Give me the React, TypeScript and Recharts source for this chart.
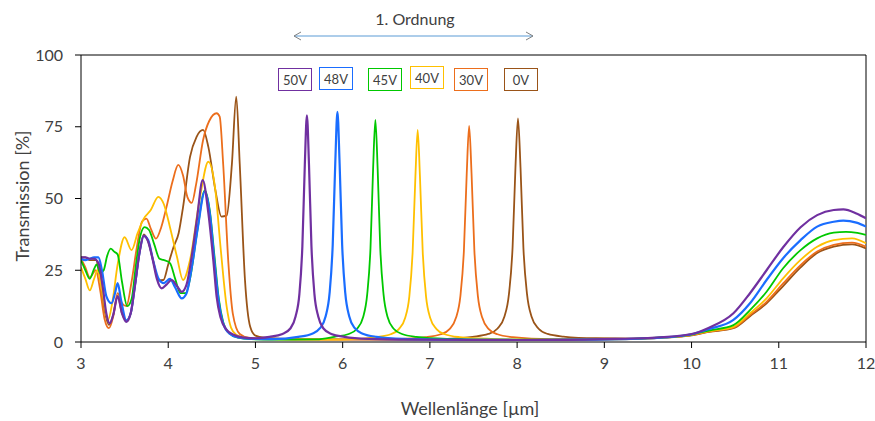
import { Line, LineChart, ReferenceLine, XAxis, YAxis } from 'recharts';

const xTicks = [3, 4, 5, 6, 7, 8, 9, 10, 11, 12];
const yTicks = [0, 25, 50, 75, 100];

// [wavelength µm, transmission %]
const t50V: [number, number][] = [
  [3.0, 29.5], [3.05, 29.5], [3.1, 29], [3.15, 29], [3.2, 27.5], [3.25, 19], [3.29, 10], [3.33, 6.5],
  [3.37, 9.5], [3.42, 16], [3.47, 10], [3.52, 7], [3.57, 10], [3.62, 20], [3.67, 31], [3.72, 37],
  [3.77, 35], [3.82, 29], [3.87, 22], [3.925, 18.7], [3.98, 20], [4.04, 21.6], [4.1, 19.5], [4.155, 17.5],
  [4.21, 20], [4.27, 30], [4.33, 43], [4.395, 56.4], [4.46, 45], [4.52, 27.5], [4.555, 15.8], [4.6, 8.5],
  [4.67, 4.2], [4.75, 2.5], [4.85, 1.6], [5.0, 1.3], [5.16, 1.8], [5.31, 2.8], [5.4, 4.7], [5.46, 8.9],
  [5.504, 16.8], [5.538, 33.4], [5.566, 61.7], [5.59, 79], [5.614, 61.7], [5.642, 33.4], [5.676, 16.8],
  [5.72, 8.9], [5.78, 4.7], [5.87, 2.8], [6.02, 1.8], [6.3, 1.1], [6.8, 0.8], [7.5, 0.7], [8.2, 0.7],
  [9.0, 1.0], [9.5, 1.4], [10.0, 2.8], [10.2, 5], [10.48, 10], [10.67, 17], [10.86, 25], [11.05, 33],
  [11.25, 40], [11.44, 44.2], [11.63, 46], [11.74, 46.2], [11.89, 44.8], [12.0, 43.1],
];

const t48V: [number, number][] = [
  [3.0, 29], [3.05, 28.5], [3.1, 29], [3.15, 29.5], [3.2, 29.5], [3.24, 25], [3.29, 16], [3.35, 13.5],
  [3.39, 17], [3.42, 20.5], [3.46, 14.5], [3.52, 7.5], [3.57, 10], [3.62, 20], [3.67, 31], [3.72, 37],
  [3.77, 35.5], [3.83, 28], [3.89, 22], [3.95, 20.5], [4.02, 22], [4.08, 19], [4.155, 15.2], [4.21, 17],
  [4.27, 26], [4.34, 40], [4.42, 52.4], [4.48, 44], [4.53, 28], [4.58, 14], [4.63, 6.5], [4.7, 3],
  [4.8, 1.6], [4.95, 1.1], [5.2, 1.0], [5.49, 1.8], [5.65, 2.9], [5.74, 4.8], [5.805, 9], [5.85, 17],
  [5.886, 33.9], [5.915, 62.2], [5.94, 80.2], [5.965, 62.2], [5.994, 33.9], [6.03, 17], [6.075, 9],
  [6.14, 4.8], [6.23, 2.9], [6.39, 1.8], [6.7, 1.1], [7.3, 0.8], [8.0, 0.7], [8.7, 0.8], [9.3, 1.1],
  [9.7, 1.6], [10.0, 2.7], [10.2, 4.5], [10.48, 7.7], [10.67, 13.5], [10.86, 21.6], [11.05, 29.2],
  [11.25, 35.5], [11.44, 40.2], [11.63, 41.9], [11.74, 42.3], [11.89, 41.6], [12.0, 40.2],
];

const t45V: [number, number][] = [
  [3.0, 28.5], [3.05, 25], [3.1, 22], [3.15, 25.5], [3.18, 27], [3.22, 24], [3.26, 25], [3.3, 30],
  [3.34, 32.5], [3.38, 31.5], [3.42, 30.5], [3.47, 21], [3.53, 12.5], [3.58, 15], [3.63, 27], [3.68, 37],
  [3.73, 40], [3.78, 39], [3.84, 34], [3.9, 29], [3.945, 28.6], [4.02, 27.5], [4.08, 22], [4.14, 17],
  [4.2, 17], [4.25, 22], [4.33, 38], [4.42, 52.8], [4.48, 45], [4.53, 30], [4.58, 15], [4.63, 7],
  [4.7, 3], [4.8, 1.5], [4.95, 1.0], [5.3, 0.8], [5.7, 0.9], [5.905, 1.8], [6.07, 2.8], [6.165, 4.6],
  [6.235, 8.7], [6.281, 16.5], [6.319, 32.7], [6.349, 60.4], [6.375, 77.4], [6.401, 60.4], [6.431, 32.7],
  [6.469, 16.5], [6.515, 8.7], [6.585, 4.6], [6.68, 2.8], [6.845, 1.8], [7.2, 1.1], [7.8, 0.8],
  [8.5, 0.8], [9.2, 1.0], [9.6, 1.5], [10.0, 2.6], [10.2, 4], [10.48, 5.9], [10.67, 11.1], [10.86, 17.5],
  [11.05, 25.7], [11.25, 32], [11.44, 36.1], [11.63, 38.1], [11.77, 38.4], [11.9, 38], [12.0, 37.3],
];

const t40V: [number, number][] = [
  [3.0, 26], [3.05, 22], [3.1, 18], [3.15, 22], [3.19, 25], [3.24, 18], [3.31, 7.7], [3.36, 14],
  [3.42, 27], [3.5, 36.5], [3.58, 32], [3.65, 38], [3.72, 43], [3.8, 46], [3.886, 50.6], [3.95, 48],
  [4.02, 40], [4.1, 29.7], [4.17, 21.6], [4.25, 28.6], [4.365, 50.6], [4.46, 62.8], [4.54, 53], [4.6, 33],
  [4.67, 12.3], [4.72, 5], [4.78, 2.5], [4.9, 1.3], [5.2, 0.9], [5.8, 0.8], [6.2, 1.1], [6.38, 1.7],
  [6.55, 2.7], [6.644, 4.5], [6.716, 8.4], [6.764, 15.8], [6.802, 31.3], [6.834, 57.7], [6.86, 73.9],
  [6.886, 57.7], [6.918, 31.3], [6.956, 15.8], [7.004, 8.4], [7.076, 4.5], [7.17, 2.7], [7.34, 1.7],
  [7.7, 1.1], [8.3, 0.8], [9.0, 0.9], [9.6, 1.4], [10.0, 2.5], [10.2, 3.8], [10.48, 5.3], [10.67, 10],
  [10.86, 15.2], [11.05, 22.2], [11.25, 28.6], [11.44, 33.2], [11.63, 35.5], [11.84, 36.1], [12.0, 34.4],
];

const t30V: [number, number][] = [
  [3.0, 29], [3.05, 26], [3.1, 22.5], [3.17, 25], [3.22, 18], [3.27, 8], [3.32, 4.8], [3.37, 9],
  [3.42, 17], [3.47, 13.5], [3.52, 12.5], [3.58, 21], [3.64, 33], [3.7, 42], [3.75, 43], [3.8, 39.5],
  [3.86, 36], [3.92, 40], [3.98, 47], [4.05, 56], [4.115, 61.7], [4.17, 58], [4.22, 50.5], [4.27, 48.5],
  [4.32, 55], [4.4, 70.4], [4.47, 77], [4.555, 79.7], [4.59, 78.5], [4.63, 62], [4.69, 27.4], [4.74, 10],
  [4.82, 2.8], [4.92, 1.5], [5.1, 1.1], [5.8, 0.8], [6.5, 0.9], [6.95, 1.7], [7.125, 2.7], [7.225, 4.5],
  [7.3, 8.5], [7.35, 16.1], [7.39, 31.9], [7.4225, 58.8], [7.45, 75.3], [7.4775, 58.8], [7.51, 31.9],
  [7.55, 16.1], [7.6, 8.5], [7.675, 4.5], [7.775, 2.7], [7.95, 1.7], [8.4, 1.0], [9.0, 0.9], [9.6, 1.4],
  [10.0, 2.4], [10.2, 3.6], [10.48, 5], [10.67, 9.4], [10.86, 14], [11.05, 20.4], [11.25, 26.8],
  [11.44, 31.5], [11.63, 33.8], [11.84, 34.6], [12.0, 33.2],
];

const t0V: [number, number][] = [
  [3.0, 29.5], [3.05, 29.5], [3.1, 28.5], [3.17, 28.5], [3.22, 22], [3.27, 11], [3.32, 6], [3.37, 9.5],
  [3.42, 16], [3.47, 10], [3.52, 7.5], [3.57, 10], [3.62, 20], [3.67, 31], [3.72, 37.5], [3.77, 35],
  [3.83, 28], [3.89, 21.5], [3.945, 21.6], [4.0, 27], [4.06, 33], [4.12, 38], [4.17, 47], [4.25, 64.5],
  [4.325, 71.5], [4.4, 73.9], [4.46, 68], [4.54, 53], [4.61, 43.7], [4.67, 44], [4.73, 62], [4.78, 85.5],
  [4.82, 62], [4.88, 21.6], [4.94, 5.3], [5.0, 2.2], [5.1, 1.5], [5.5, 1.0], [6.5, 0.8], [7.2, 1.1],
  [7.49, 1.8], [7.67, 2.8], [7.776, 4.7], [7.854, 8.8], [7.906, 16.6], [7.948, 32.9], [7.981, 60.8],
  [8.01, 77.9], [8.039, 60.8], [8.072, 32.9], [8.114, 16.6], [8.166, 8.8], [8.244, 4.7], [8.35, 2.8],
  [8.53, 1.9], [8.9, 1.3], [9.4, 1.2], [9.8, 1.7], [10.0, 2.3], [10.2, 3.5], [10.48, 4.8], [10.67, 9],
  [10.86, 13.5], [11.05, 19.5], [11.25, 26], [11.44, 31], [11.63, 33.2], [11.84, 34], [12.0, 32.6],
];

const COLORS: Record<string, string> = {
  '50V': '#7030a0',
  '48V': '#1a6dff',
  '45V': '#00c800',
  '40V': '#ffc000',
  '30V': '#ec6e1c',
  '0V': '#9a5418',
};

// drawn back to front, so 50V ends up on top
const SERIES = [
  { name: '0V', points: t0V, width: 1.8 },
  { name: '30V', points: t30V, width: 1.8 },
  { name: '40V', points: t40V, width: 1.8 },
  { name: '45V', points: t45V, width: 1.8 },
  { name: '48V', points: t48V, width: 2.2 },
  { name: '50V', points: t50V, width: 2.2 },
];

// label boxes placed above the peaks (pixel positions)
const LABEL_BOXES = [
  { name: '50V', left: 278, top: 68 },
  { name: '48V', left: 319, top: 67 },
  { name: '45V', left: 368, top: 68 },
  { name: '40V', left: 410, top: 66 },
  { name: '30V', left: 454, top: 68 },
  { name: '0V', left: 504, top: 68 },
];

const FONT = 'Lato, "Open Sans", sans-serif';
const TEXT = '#404040';

const toData = (points: [number, number][]) => points.map(([x, y]) => ({ x, y }));

export default function App() {
  return (
    <div style={{ position: 'relative', width: 875, height: 421, background: '#fff', fontFamily: FONT }}>
      <style>{'body{margin:0}'}</style>
      <LineChart width={875} height={421} margin={{ top: 55, right: 9, bottom: 49, left: 36 }}>
        <XAxis
          type="number"
          dataKey="x"
          domain={[3, 12]}
          ticks={xTicks}
          allowDataOverflow
          height={30}
          tickSize={6}
          tickMargin={10}
          axisLine={{ stroke: '#000' }}
          tickLine={{ stroke: '#000' }}
          tick={{ fontSize: 16, fill: TEXT, fontFamily: FONT }}
        />
        <YAxis
          type="number"
          domain={[0, 100]}
          ticks={yTicks}
          width={45}
          tickSize={6}
          tickMargin={12}
          axisLine={{ stroke: '#000' }}
          tickLine={{ stroke: '#000' }}
          tick={{ fontSize: 16, fill: TEXT, fontFamily: FONT }}
        />
        <ReferenceLine y={100} stroke="#000" />
        <ReferenceLine x={12} stroke="#000" />
        {SERIES.map((s) => (
          <Line
            key={s.name}
            data={toData(s.points)}
            dataKey="y"
            type="monotone"
            stroke={COLORS[s.name]}
            strokeWidth={s.width}
            dot={false}
            activeDot={false}
            isAnimationActive={false}
          />
        ))}
      </LineChart>

      <div
        style={{
          position: 'absolute',
          left: 22,
          top: 196,
          transform: 'translate(-50%, -50%) rotate(-90deg)',
          fontSize: 18,
          color: TEXT,
          whiteSpace: 'nowrap',
        }}
      >
        Transmission [%]
      </div>
      <div
        style={{
          position: 'absolute',
          left: 470,
          top: 408,
          transform: 'translate(-50%, -50%)',
          fontSize: 18,
          color: TEXT,
          whiteSpace: 'nowrap',
        }}
      >
        Wellenlänge [µm]
      </div>

      <div
        style={{
          position: 'absolute',
          left: 415,
          top: 18,
          transform: 'translate(-50%, -50%)',
          fontSize: 16,
          color: TEXT,
          whiteSpace: 'nowrap',
        }}
      >
        1. Ordnung
      </div>
      <svg style={{ position: 'absolute', left: 0, top: 0 }} width={875} height={60}>
        <line x1={294} y1={36} x2={533} y2={36} stroke="#5b9bd5" strokeWidth={1} />
        <polyline points="301,32 294,36 301,40" fill="none" stroke="#808080" strokeWidth={1} />
        <polyline points="526,32 533,36 526,40" fill="none" stroke="#808080" strokeWidth={1} />
      </svg>

      {LABEL_BOXES.map((b) => (
        <div
          key={b.name}
          style={{
            position: 'absolute',
            left: b.left,
            top: b.top,
            width: 34,
            height: 23,
            boxSizing: 'border-box',
            border: `1px solid ${COLORS[b.name]}`,
            background: '#fff',
            fontSize: 13,
            color: TEXT,
            display: 'flex',
            alignItems: 'center',
            justifyContent: 'center',
          }}
        >
          {b.name}
        </div>
      ))}
    </div>
  );
}
